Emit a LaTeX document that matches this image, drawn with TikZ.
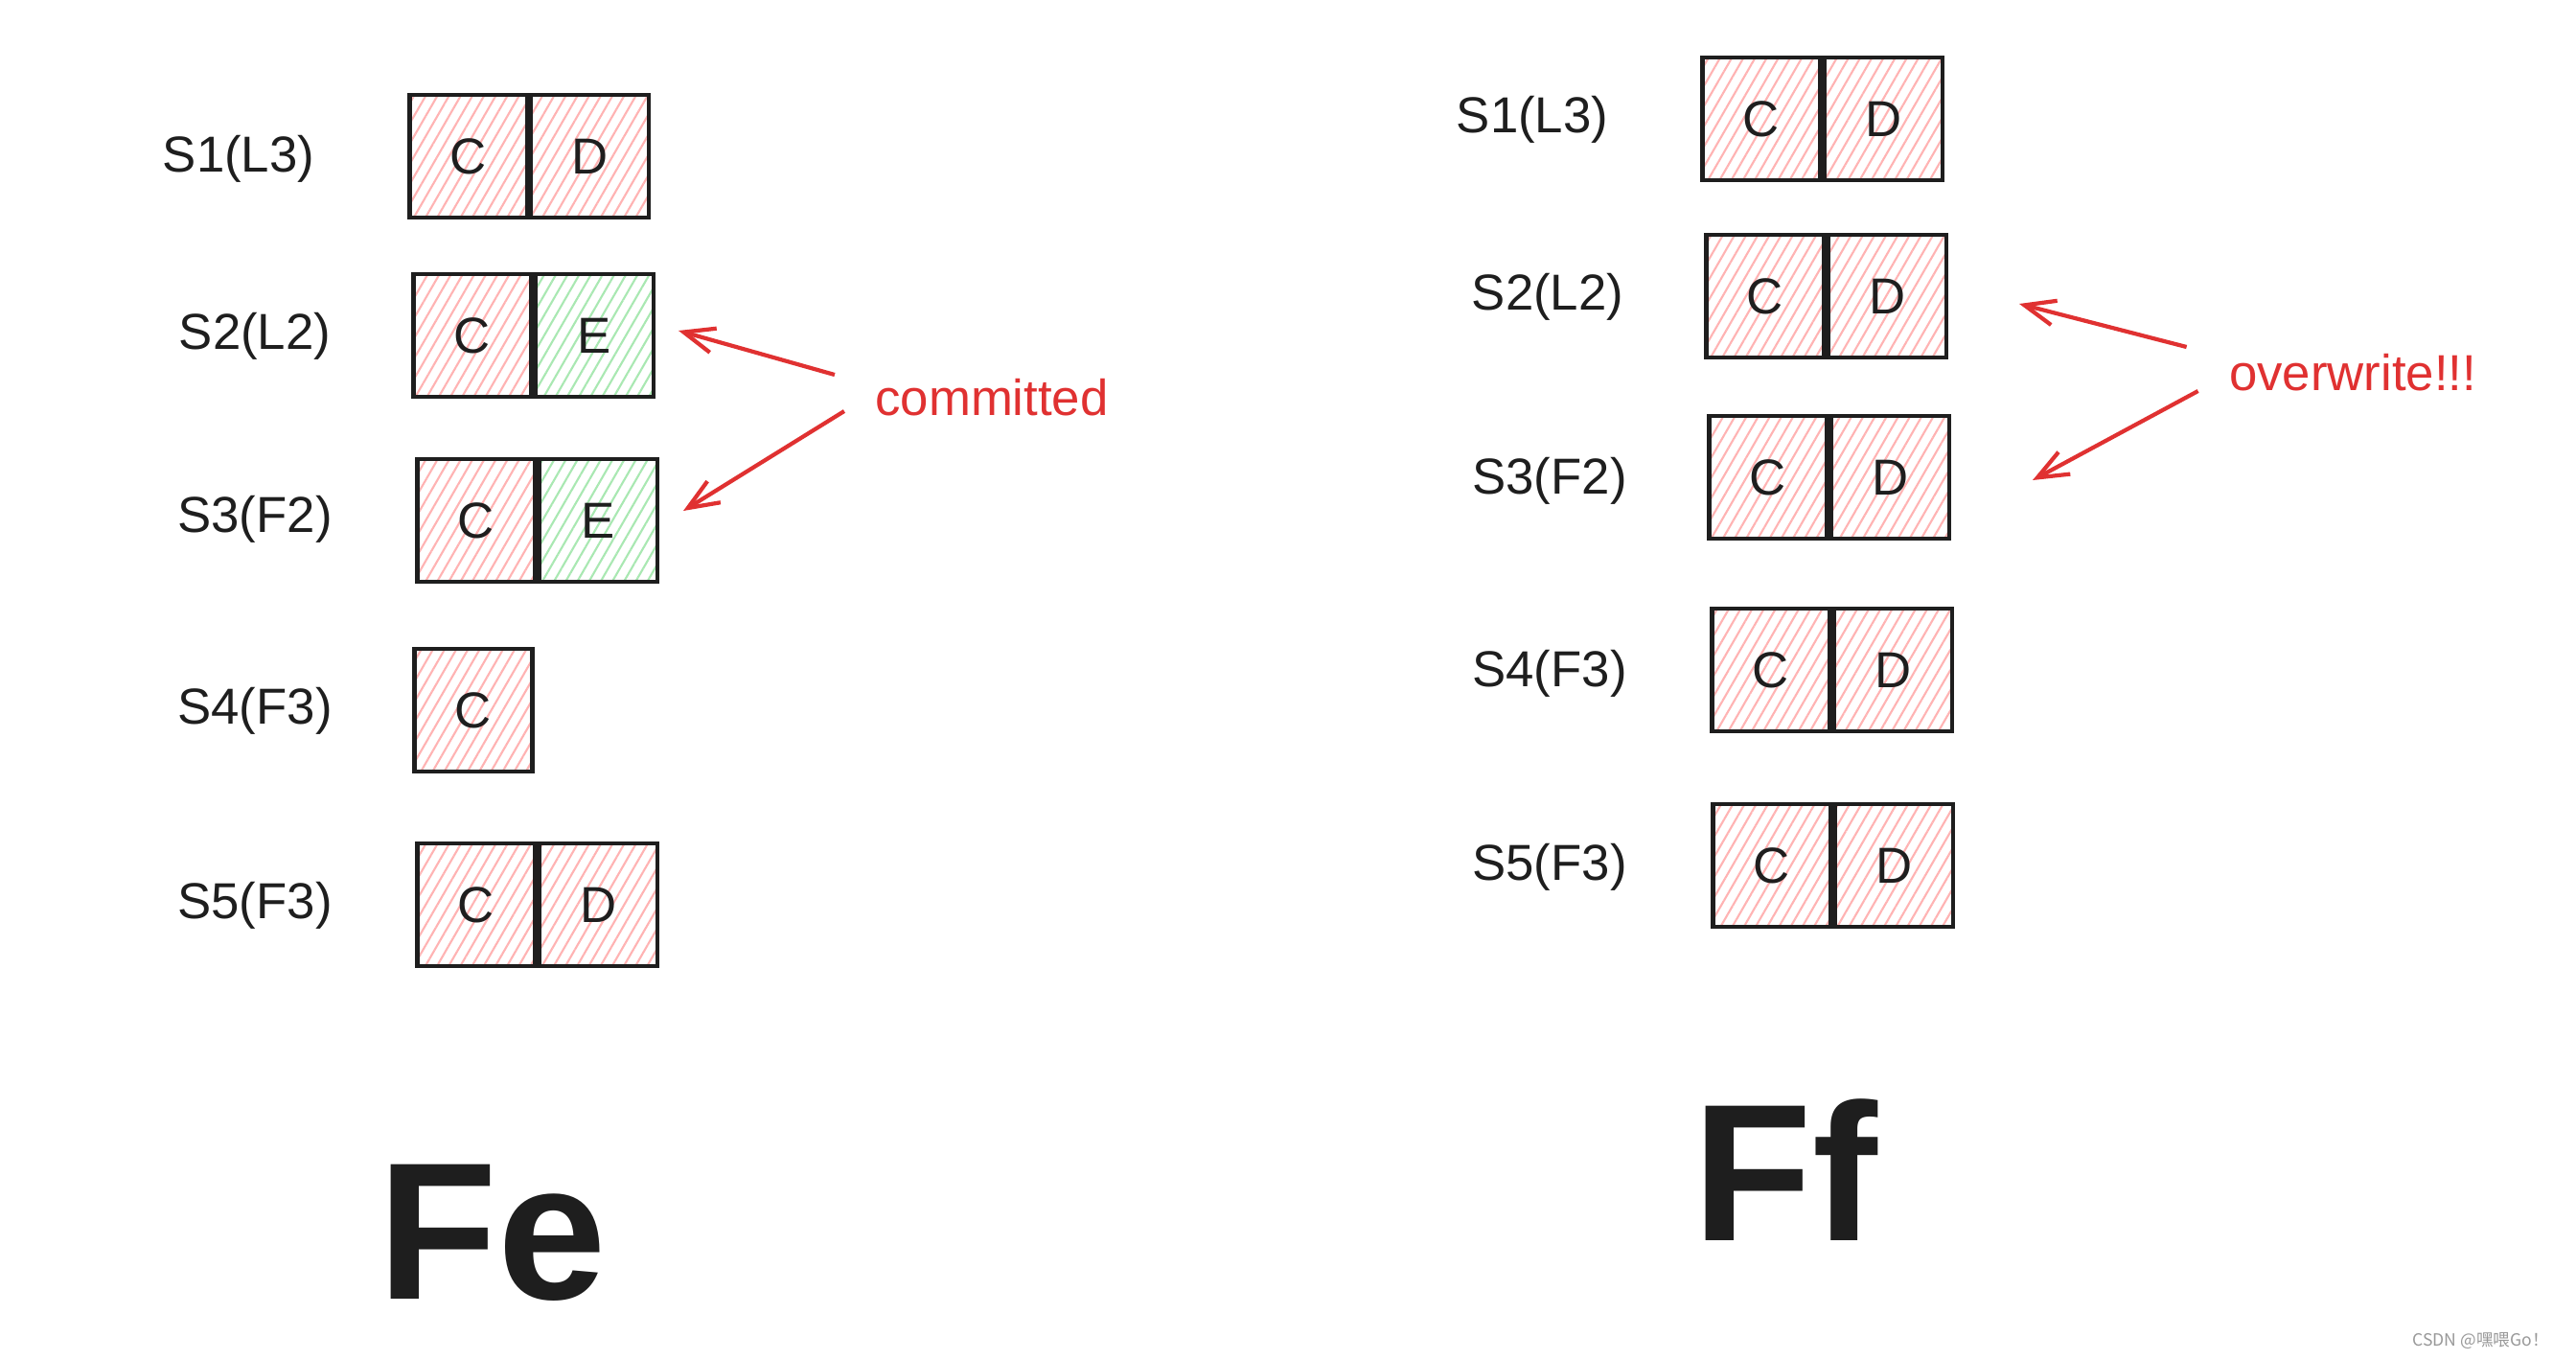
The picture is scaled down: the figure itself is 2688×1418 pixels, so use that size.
\documentclass[tikz,border=0pt]{standalone}
\usepackage{fontspec}
\setmainfont{Liberation Sans}
\newfontfamily\cjkfont{Noto Sans CJK SC}
\usetikzlibrary{positioning,patterns.meta,arrows.meta}
\definecolor{inkblack}{HTML}{1E1E1E}
\definecolor{inkred}{HTML}{E03131}
\definecolor{hatchred}{HTML}{FFB3B3}
\definecolor{hatchgreen}{HTML}{A9E8B2}

\begin{document}
\begin{tikzpicture}[
    x=0.01cm, y=-0.01cm,
    slot/.style={draw=inkblack, line width=1.2pt, minimum width=1.23cm, minimum height=1.28cm, inner sep=0pt, font=\fontsize{15}{18}\selectfont, text=inkblack},
    oldslot/.style={slot, pattern={Lines[angle=60,distance=3pt,line width=0.6pt]}, pattern color=hatchred},
    newslot/.style={slot, pattern={Lines[angle=60,distance=3pt,line width=0.6pt]}, pattern color=hatchgreen},
    server/.style={font=\fontsize{15}{18}\selectfont, text=inkblack},
    title/.style={font=\fontsize{58}{64}\selectfont\bfseries, text=inkblack},
    note/.style={font=\fontsize{15}{18}\selectfont, text=inkred},
    pointer/.style={-{Straight Barb[length=3.2mm,width=2.6mm]}, line width=1.2pt, draw=inkred}
]
    \fill[white] (0,0) rectangle (2688,1418);
    \useasboundingbox (0,0) rectangle (2688,1418);

    % Fe side
    \node[server] (fe1) at (249,166) {S1(L3)};
    \node[server] (fe2) at (266,351) {S2(L2)};
    \node[server] (fe3) at (266,542) {S3(F2)};
    \node[server] (fe4) at (266,742) {S4(F3)};
    \node[server] (fe5) at (266,945) {S5(F3)};

    \node[oldslot] (fe1c) at (489,163) {C};
    \node[oldslot, right=0pt of fe1c] (fe1d) {D};
    \node[oldslot] (fe2c) at (493,350) {C};
    \node[newslot, right=0pt of fe2c] (fe2e) {E};
    \node[oldslot] (fe3c) at (497,543) {C};
    \node[newslot, right=0pt of fe3c] (fe3e) {E};
    \node[oldslot] (fe4c) at (494,741) {C};
    \node[oldslot] (fe5c) at (497,944) {C};
    \node[oldslot, right=0pt of fe5c] (fe5d) {D};

    \node[title] (fe) at (514,1286) {Fe};

    % Ff side
    \node[server] (ff1) at (1599,125) {S1(L3)};
    \node[server] (ff2) at (1615,310) {S2(L2)};
    \node[server] (ff3) at (1617,502) {S3(F2)};
    \node[server] (ff4) at (1617,703) {S4(F3)};
    \node[server] (ff5) at (1617,905) {S5(F3)};

    \node[oldslot] (ff1c) at (1838,124) {C};
    \node[oldslot, right=0pt of ff1c] (ff1d) {D};
    \node[oldslot] (ff2c) at (1842,309) {C};
    \node[oldslot, right=0pt of ff2c] (ff2d) {D};
    \node[oldslot] (ff3c) at (1845,498) {C};
    \node[oldslot, right=0pt of ff3c] (ff3d) {D};
    \node[oldslot] (ff4c) at (1848,699) {C};
    \node[oldslot, right=0pt of ff4c] (ff4d) {D};
    \node[oldslot] (ff5c) at (1849,903) {C};
    \node[oldslot, right=0pt of ff5c] (ff5d) {D};

    \node[title] (ff) at (1863,1221) {Ff};

    % Notes
    \node[note] (committed) at (1035,415) {committed};
    \node[note] (overwrite) at (2455,389) {overwrite!!!};
    \coordinate (ctip1) at (708,345);
    \coordinate (ctip2) at (713,533);
    \coordinate (otip1) at (2107,317);
    \coordinate (otip2) at (2121,501);
    \draw[pointer] ([shift={(-30,-24)}]committed.west) -- (ctip1);
    \draw[pointer] ([shift={(-20,14)}]committed.west) -- (ctip2);
    \draw[pointer] ([shift={(-32,-27)}]overwrite.west) -- (otip1);
    \draw[pointer] ([shift={(-20,19)}]overwrite.west) -- (otip2);

    \node[font=\cjkfont\fontsize{5}{6}\selectfont, text=gray!80, anchor=east] (mark) at (2672,1399) {CSDN @嘿喂Go！};
\end{tikzpicture}
\end{document}
